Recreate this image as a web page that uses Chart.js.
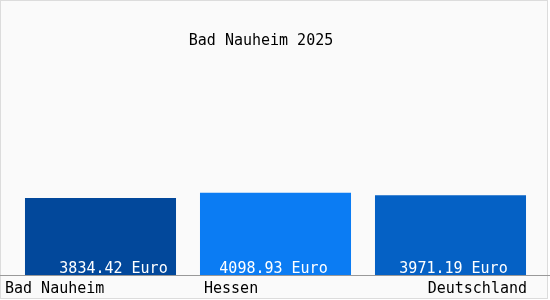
<!DOCTYPE html>
<html>
<head>
<meta charset="utf-8">
<script src="https://cdn.jsdelivr.net/npm/chart.js@4"></script>
<style>
  html, body { margin: 0; padding: 0; background: #fff; }
  #wrap { position: relative; width: 550px; height: 300px; }
</style>
</head>
<body>
<div id="wrap"><canvas id="chart" width="550" height="300"></canvas></div>
<script>
// data
const title = 'Bad Nauheim 2025';
const categories = ['Bad Nauheim', 'Hessen', 'Deutschland'];
const values = [3834.42, 4098.93, 3971.19];
const unit = 'Euro';
const barColors = ['#02489b', '#0b7cf3', '#0561c5'];

const FONT = '15px "DejaVu Sans Mono", "Liberation Mono", monospace';

// frame, baseline, value labels and category labels
const decorations = {
  id: 'decorations',
  beforeDraw: (chart) => {
    const c = chart.ctx;
    c.save();
    c.fillStyle = '#fafafa';
    c.fillRect(0, 0, 548, 299);
    c.strokeStyle = '#dcdcdc';
    c.lineWidth = 1;
    c.strokeRect(0.5, 0.5, 547, 298);
    c.restore();
  },
  afterDatasetsDraw: (chart) => {
    const c = chart.ctx;
    const area = chart.chartArea;
    const bars = chart.getDatasetMeta(0).data;
    c.save();
    // baseline
    c.strokeStyle = '#999999';
    c.lineWidth = 1;
    c.beginPath();
    c.moveTo(0, area.bottom + 0.5);
    c.lineTo(chart.width, area.bottom + 0.5);
    c.stroke();

    c.font = FONT;
    c.textBaseline = 'alphabetic';
    // value labels inside the bars
    const shift = [13, -2, 3];
    c.fillStyle = '#ffffff';
    c.textAlign = 'center';
    bars.forEach((b, i) => {
      const txt = values[i].toFixed(2) + ' ' + unit;
      c.fillText(txt, b.x + shift[i], area.bottom - 2);
    });
    // category labels under the baseline
    c.fillStyle = '#000000';
    const y = area.bottom + 18;
    bars.forEach((b, i) => {
      const half = b.width / 2;
      if (i === 0) { c.textAlign = 'left'; c.fillText(categories[i], 5, y); }
      else if (i === bars.length - 1) { c.textAlign = 'right'; c.fillText(categories[i], b.x + half + 1, y); }
      else { c.textAlign = 'left'; c.fillText(categories[i], b.x - half + 4, y); }
    });
    // title
    c.textAlign = 'center';
    c.fillText(title, 261, 45);
    c.restore();
  }
};

new Chart(document.getElementById('chart'), {
  type: 'bar',
  data: {
    labels: categories,
    datasets: [{
      data: values,
      backgroundColor: barColors,
      borderWidth: 0,
      categoryPercentage: 1,
      barPercentage: 0.863
    }]
  },
  options: {
    responsive: false,
    animation: false,
    layout: { padding: { left: 13, right: 12, top: 60, bottom: 25 } },
    plugins: { legend: { display: false }, tooltip: { enabled: false }, title: { display: false } },
    scales: {
      x: { display: false },
      y: { display: false, min: 0, max: 10700 }
    }
  },
  plugins: [decorations]
});
</script>
</body>
</html>
